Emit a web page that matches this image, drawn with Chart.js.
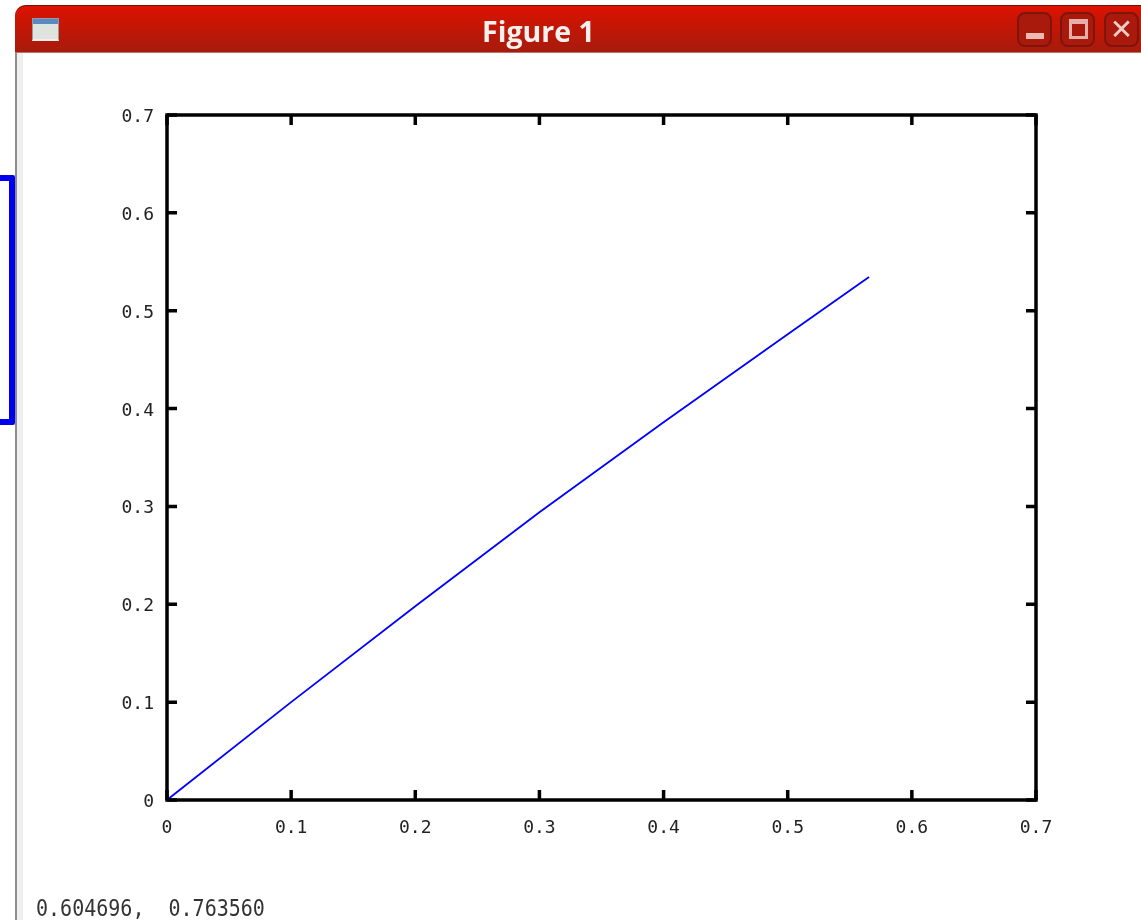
<!DOCTYPE html>
<html>
<head>
<meta charset="utf-8">
<title>Figure 1</title>
<script src="https://cdn.jsdelivr.net/npm/chart.js@4/dist/chart.umd.min.js"></script>
<style>
  html, body { margin: 0; padding: 0; background: #fff; }
  body { position: relative; width: 1141px; height: 920px; overflow: hidden; }
  #plot { position: absolute; left: 0; top: 0; }
  .edge { position: absolute; left: 15px; top: 50px; width: 2px; height: 870px; background: #8c8c8c; }
  .edge2 { position: absolute; left: 17px; top: 52px; width: 6px; height: 868px; background: #efefef; }
  .titlebar {
    position: absolute; left: 15px; top: 5px; width: 1130px; height: 48px;
    border-top-left-radius: 11px;
    background: linear-gradient(#dc1200, #a61b0c);
    border-top: 1px solid #7a1008; border-bottom: 1px solid #b5736c; box-sizing: border-box;
  }
  .title {
    position: absolute; left: 482px; top: 12px; color: #f4f1ee;
    font: bold 28px "Open Sans", sans-serif; line-height: 38px; white-space: nowrap;
    transform: scaleX(1.02); transform-origin: left center;
  }
  .winicon {
    position: absolute; left: 32px; top: 18px; width: 27px; height: 23px; box-sizing: border-box;
    background: linear-gradient(#5a8ac4 0 5px, #dfe3de 5px); border: 1px solid #9a9a9a; border-bottom: 2px solid #eee;
  }
  .btn {
    position: absolute; top: 12px; width: 35px; height: 35px; box-sizing: border-box;
    border: 2px solid #7e140b; border-radius: 8px; background: #a91a0c;
  }
  .status {
    position: absolute; left: 36px; top: 893px; color: #333; white-space: pre;
    font: 23px "DejaVu Sans Mono", monospace; line-height: 30px;
    transform: scaleX(0.87); transform-origin: left center;
  }
  .marker {
    position: absolute; left: -6px; top: 175px; width: 21px; height: 250px; box-sizing: border-box;
    border: 6px solid #0000ee; border-radius: 2px;
  }
</style>
</head>
<body>
<div class="edge2"></div>
<div class="edge"></div>
<canvas id="plot" width="1141" height="920"></canvas>
<div class="titlebar"></div>
<div class="winicon"></div>
<div class="title">Figure 1</div>
<div class="btn" style="left:1017px"><div style="position:absolute;left:7px;top:19px;width:18px;height:6px;background:#eeb9b0"></div></div>
<div class="btn" style="left:1060px"><div style="position:absolute;left:7px;top:5px;width:19px;height:20px;box-sizing:border-box;border:3px solid #e6b0a8;border-top-width:5px"></div></div>
<div class="btn" style="left:1104px;color:#f3cfc8;font:bold 28px 'DejaVu Sans',sans-serif;line-height:31px;text-align:center">✕</div>
<div class="marker"></div>
<div class="status">0.604696,  0.763560</div>

<script>
'use strict';

const xValues = [0, 0.1, 0.2, 0.3, 0.4, 0.5, 0.5655];
const yValues = [0, 0.1, 0.198, 0.294, 0.386, 0.476, 0.5345];
const tickLabels = ['0', '0.1', '0.2', '0.3', '0.4', '0.5', '0.6', '0.7'];

// octave style box: frame on all four sides, ticks pointing inwards
const frameBox = {
  id: 'frameBox',
  afterDraw(chart) {
    const { ctx, chartArea: a, scales } = chart;
    ctx.save();
    ctx.strokeStyle = '#000';
    ctx.lineWidth = 3.5;
    ctx.strokeRect(a.left, a.top, a.right - a.left, a.bottom - a.top);
    ctx.beginPath();
    scales.x.ticks.forEach(t => {
      const px = scales.x.getPixelForValue(t.value);
      ctx.moveTo(px, a.bottom); ctx.lineTo(px, a.bottom - 10);
      ctx.moveTo(px, a.top); ctx.lineTo(px, a.top + 10);
    });
    scales.y.ticks.forEach(t => {
      const py = scales.y.getPixelForValue(t.value);
      ctx.moveTo(a.left, py); ctx.lineTo(a.left + 10, py);
      ctx.moveTo(a.right, py); ctx.lineTo(a.right - 10, py);
    });
    ctx.stroke();

    // tick labels sit lower than chart.js puts them, so place them by baseline
    ctx.fillStyle = '#222';
    ctx.font = '18px "DejaVu Sans Mono", monospace';
    ctx.textBaseline = 'alphabetic';
    ctx.textAlign = 'center';
    scales.x.ticks.forEach((t, i) => {
      ctx.fillText(tickLabels[i], scales.x.getPixelForValue(t.value), a.bottom + 33);
    });
    ctx.textAlign = 'right';
    scales.y.ticks.forEach((t, i) => {
      ctx.fillText(tickLabels[i], a.left - 13, scales.y.getPixelForValue(t.value) + 7);
    });
    ctx.restore();
  },
};

new Chart(document.getElementById('plot'), {
  type: 'scatter',
  data: {
    datasets: [{
      data: xValues.map((x, i) => ({ x, y: yValues[i] })),
      showLine: true,
      borderColor: '#0000ff',
      borderWidth: 1.8,
      pointRadius: 0,
      tension: 0,
    }],
  },
  options: {
    responsive: false,
    animation: false,
    layout: { padding: { left: 107, top: 115, right: 105, bottom: 80 } },
    plugins: { legend: { display: false }, tooltip: { enabled: false } },
    scales: {
      x: {
        min: 0, max: 0.7,
        afterFit: s => { s.height = 40; },
        grid: { display: false },
        border: { display: false },
        ticks: { stepSize: 0.1, display: false },
      },
      y: {
        min: 0, max: 0.7,
        afterFit: s => { s.width = 60; },
        grid: { display: false },
        border: { display: false },
        ticks: { stepSize: 0.1, display: false },
      },
    },
  },
  plugins: [frameBox],
});
</script>
</body>
</html>
